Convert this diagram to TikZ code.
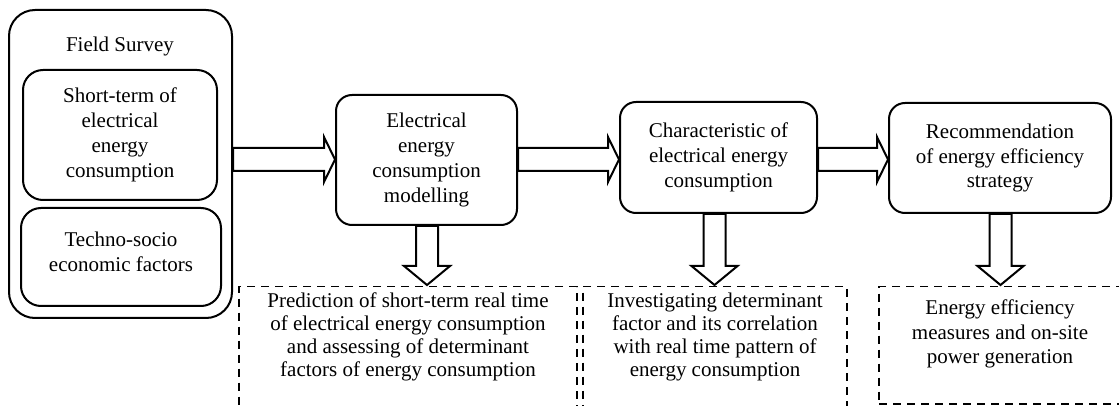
\documentclass[tikz,border=0pt]{standalone}
\usepackage{fontspec}
\setmainfont{Liberation Serif}
\usetikzlibrary{calc}
\begin{document}
\begin{tikzpicture}[x=0.5pt,y=-0.5pt,
  every node/.style={font=\fontsize{10.5}{12.4}\selectfont, align=center, inner sep=0pt},
  rbox/.style={draw, line width=1pt, rounded corners=8pt},
  dbox/.style={draw, line width=0.75pt, dash pattern=on 4pt off 3pt},
  barrow/.style={draw, line width=1pt, line join=miter}]
\useasboundingbox (0,0) rectangle (1119,406);
\clip (0,0) rectangle (1119,406);

% Field survey group
\node[rbox, rounded corners=13pt, minimum width=111.5pt, minimum height=154pt] (fs) at (120.5,164) {};
\node[anchor=base] (fst) at (120,52) {Field Survey};
\node[rbox, rounded corners=10pt, minimum width=97pt, minimum height=65pt] (st) at (120,135) {Short-term of\\electrical\\energy\\consumption};
\node[rbox, rounded corners=10pt, minimum width=100pt, minimum height=49pt] (ts) at (121,257) {};
\node (tst) at (121,252) {Techno-socio\\economic factors};

% main process boxes
\node[rbox, minimum width=90.5pt, minimum height=65pt] (ecm) at (426.5,160) {Electrical\\energy\\consumption\\modelling};
\node[rbox, minimum width=98.5pt, minimum height=55.5pt] (cec) at (718.5,157.5) {Characteristic of\\electrical energy\\consumption};
\node[rbox, minimum width=111pt, minimum height=55pt] (rec) at (1000,158) {Recommendation\\of energy efficiency\\strategy};

% dashed outcome boxes
\node[dbox, minimum width=169pt, minimum height=90pt, anchor=north] (pa) at (408,286) {};
\node[font=\fontsize{10.5}{11.5}\selectfont] (pat) at (408,337) {Prediction of short-term real time\\of electrical energy consumption\\and assessing of determinant\\factors of energy consumption};
\node[dbox, minimum width=132pt, minimum height=90pt, anchor=north] (pb) at (715,286) {};
\node[font=\fontsize{10.5}{11.5}\selectfont] (pbt) at (715,337) {Investigating determinant\\factor and its correlation\\with real time pattern of\\energy consumption};
\node[dbox, minimum width=130pt, minimum height=58.5pt, anchor=north] (pc) at (1009,286) {};
\node (pct) at (1000,334) {Energy efficiency\\measures and on-site\\power generation};

% horizontal block arrows
\newcommand\harr[2]{%
  \draw[barrow] (#1.east |- 0,148) -- ($(#2.west |- 0,148)+(-11,0)$)
    -- ($(#2.west |- 0,137)+(-11,0)$) -- (#2.west |- 0,159.5)
    -- ($(#2.west |- 0,182)+(-11,0)$) -- ($(#2.west |- 0,171)+(-11,0)$)
    -- (#1.east |- 0,171) -- cycle;}
\harr{fs}{ecm}
\harr{ecm}{cec}
\harr{cec}{rec}

% vertical block arrows: #1 source node, #2 x centre, #3 target node
\newcommand\varr[3]{%
  \draw[barrow] ($(#2,0 |- #1.south)+(-11,0)$) -- ($(#2,0 |- #3.north)+(-11,-20)$)
    -- ($(#2,0 |- #3.north)+(-23,-20)$) -- ($(#2,0 |- #3.north)+(0,-1)$)
    -- ($(#2,0 |- #3.north)+(23,-20)$) -- ($(#2,0 |- #3.north)+(11,-20)$)
    -- ($(#2,0 |- #1.south)+(11,0)$) -- cycle;}
\varr{ecm}{427}{pa}
\varr{cec}{714.5}{pb}
\varr{rec}{1000.5}{pc}
\end{tikzpicture}
\end{document}
